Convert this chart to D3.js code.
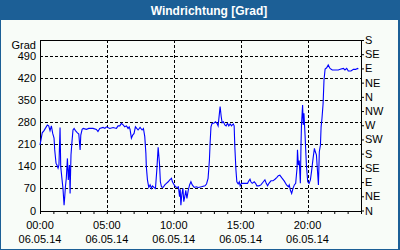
<!DOCTYPE html>
<html><head><meta charset="utf-8">
<script src="https://cdn.jsdelivr.net/npm/d3@7"></script>
<style>html,body{margin:0;padding:0;background:#fff;}svg{display:block;}</style>
</head><body>
<svg id="c" width="400" height="250"></svg>
<script>
// ---- data ----
const title = "Windrichtung [Grad]";
const yTitle = "Grad";
const leftTicks = [0, 70, 140, 210, 280, 350, 420, 490];
const rightTicks = [0, 45, 90, 135, 180, 225, 270, 315, 360, 405, 450, 495, 540];
const rightLabels = ["N","NE","E","SE","S","SW","W","NW","N","NE","E","SE","S"];
const xMajorHours = [0, 5, 10, 15, 20];
const xTimeLabels = ["00:00","05:00","10:00","15:00","20:00"];
const xDateLabel = "06.05.14";
const times = ["0:00","0:10","0:18","0:24","0:33","0:39","0:45","0:51","0:57","1:03","1:06","1:12","1:16","1:21","1:25","1:30","1:33","1:39","1:43","1:48","1:51","1:54","1:58","2:03","2:07","2:12","2:15","2:19","2:24","2:28","2:33","2:39","2:48","2:54","3:00","3:03","3:09","3:14","3:28","3:39","3:58","4:13","4:20","4:28","4:43","4:51","4:58","5:13","5:28","5:43","5:50","5:58",
"6:05","6:13","6:20","6:28","6:35","6:40","6:44","6:50","6:56","7:02","7:08","7:14","7:20","7:29","7:38","7:44","7:50","7:55","7:57","8:02","8:08","8:14","8:20","8:24","8:32","8:38","8:44","8:50","8:56","9:00","9:05","9:12","9:20","9:27","9:35","9:42","9:50","9:54","10:02","10:08","10:15","10:21","10:26","10:29","10:32","10:36","10:41","10:45","10:50","10:54","10:59","11:05","11:11","11:17","11:23","11:32","11:41","11:50",
"12:04","12:20","12:27","12:34","12:40","12:43","12:47","12:52","13:01","13:07","13:14","13:19","13:24","13:28","13:33","13:37","13:43","13:49","13:55","14:01","14:07","14:13","14:19","14:27","14:31","14:34","14:39","14:43","14:49","14:54","14:58","15:04","15:12","15:19","15:31","15:37","15:42","15:46","15:52","16:01","16:07","16:13","16:22","16:31","16:42","16:49","16:55","17:01","17:07","17:16","17:25","17:34","17:43","17:49","17:56",
"18:04","18:16","18:26","18:34","18:38","18:43","18:49","18:55","19:01","19:07","19:13","19:15","19:19","19:23","19:28","19:31","19:33","19:38","19:41","19:44","19:49","19:55","20:01","20:07","20:13","20:18","20:25","20:31","20:35","20:40","20:44","20:49","20:53","20:58","21:01","21:05","21:10","21:14","21:19","21:26","21:33","21:41","21:51","22:04","22:18","22:30","22:41","22:48","22:56","23:03","23:15","23:26","23:36","23:44","23:48"];
const direction = [207,246,253,260,271,268,253,268,244,229,192,149,144,134,144,263,139,97,70,17,44,75,102,165,97,144,54,176,223,255,260,253,246,242,192,239,257,260,257,260,260,257,250,260,263,260,265,260,263,260,268,268,
276,271,265,268,260,265,257,229,239,244,265,260,255,263,255,260,234,181,139,97,73,81,70,78,73,70,128,200,149,91,75,73,81,86,91,97,102,91,81,75,73,75,44,67,17,49,70,28,46,64,38,64,81,91,81,73,75,73,
75,78,84,102,160,213,265,276,277,281,276,268,302,329,297,278,281,271,268,276,268,274,268,274,268,202,128,91,84,91,78,86,86,86,86,94,99,91,86,91,86,78,78,81,91,97,86,78,86,94,94,99,105,110,112,
104,93,81,75,81,65,54,70,81,86,134,192,144,158,86,213,271,334,271,308,239,144,91,86,97,123,165,197,186,176,134,81,186,207,265,292,339,413,448,452,461,450,445,445,445,448,450,445,450,442,442,447,447,450,448];

// ---- chart ----
const W = 400, H = 250;
const m = {left: 40, right: 361, top: 40, bottom: 210.5};
const svg = d3.select("#c");
const font = "Liberation Sans, Arial, sans-serif";

svg.append("rect").attr("x",0).attr("y",0).attr("width",W).attr("height",H).attr("fill","#1c5f96");
svg.append("rect").attr("x",1).attr("y",20).attr("width",W-3).attr("height",H-21).attr("fill","#f8fcf8");
svg.append("text").attr("x",209).attr("y",14.5).attr("text-anchor","middle")
  .attr("font-family",font).attr("font-weight","bold").attr("font-size","12px")
  .attr("fill","#fff").text(title);

const toMin = s => { const [h, mm] = s.split(":").map(Number); return h*60+mm; };
const data = times.map((t,i) => ({t: toMin(t), v: direction[i]}));

const x = d3.scaleLinear().domain([0, 1440]).range([m.left, m.right]);
const y = d3.scaleLinear().domain([0, 540]).range([m.bottom, m.top]);

const g = svg.append("g");
// grid
g.append("g").selectAll("line").data(leftTicks.slice(1)).join("line")
  .attr("x1", m.left).attr("x2", m.right).attr("y1", d=>Math.round(y(d))+0.5).attr("y2", d=>Math.round(y(d))+0.5)
  .attr("stroke","#000").attr("stroke-dasharray","3,2").attr("shape-rendering","crispEdges");
g.append("g").selectAll("line").data(xMajorHours.slice(1)).join("line")
  .attr("x1", d=>Math.round(x(d*60))+0.5).attr("x2", d=>Math.round(x(d*60))+0.5).attr("y1", m.top).attr("y2", m.bottom)
  .attr("stroke","#000").attr("stroke-dasharray","3,2").attr("shape-rendering","crispEdges");

// frame
g.append("rect").attr("x", m.left+0.5).attr("y", m.top+0.5).attr("width", m.right-m.left-0.5).attr("height", Math.round(m.bottom)-m.top)
  .attr("fill","none").attr("stroke","#000").attr("shape-rendering","crispEdges");

// left axis
const yl = d3.axisLeft(y).tickValues(leftTicks).tickSize(0).tickPadding(4);
const gl = g.append("g").attr("transform",`translate(${m.left},0)`).call(yl);
gl.select(".domain").remove();
gl.selectAll("text").attr("font-family",font).attr("font-size","11px").attr("fill","#000");
svg.append("text").attr("x",36).attr("y",48.5).attr("text-anchor","end").attr("font-family",font).attr("font-size","11px").text(yTitle);

// right axis
const yr = d3.axisRight(y).tickValues(rightTicks).tickFormat((d,i)=>rightLabels[i]).tickSize(3).tickPadding(1);
const gr = g.append("g").attr("transform",`translate(${m.right},0)`).call(yr);
gr.select(".domain").remove();
gr.selectAll("text").attr("font-family",font).attr("font-size","11px").attr("fill","#000");

// bottom axis
const hours = d3.range(0, 25).map(h=>h*60);
const xb = d3.axisBottom(x).tickValues(hours).tickFormat("").tickSize(3);
const gb = g.append("g").attr("transform",`translate(0,${Math.round(m.bottom)})`).call(xb);
gb.select(".domain").remove();
const lab = g.append("g").selectAll("g").data(xMajorHours).join("g");
lab.append("text").attr("x", d=>x(d*60)).attr("y", 228.5).attr("text-anchor","middle")
  .attr("font-family",font).attr("font-size","11px").text((d,i)=>xTimeLabels[i]);
lab.append("text").attr("x", d=>x(d*60)).attr("y", 243).attr("text-anchor","middle")
  .attr("font-family",font).attr("font-size","11px").text(xDateLabel);

// line
g.append("path").datum(data)
  .attr("d", d3.line().x(d=>x(d.t)).y(d=>y(d.v)))
  .attr("fill","none").attr("stroke","#0000ff").attr("stroke-width",1.1);
</script>
</body></html>
